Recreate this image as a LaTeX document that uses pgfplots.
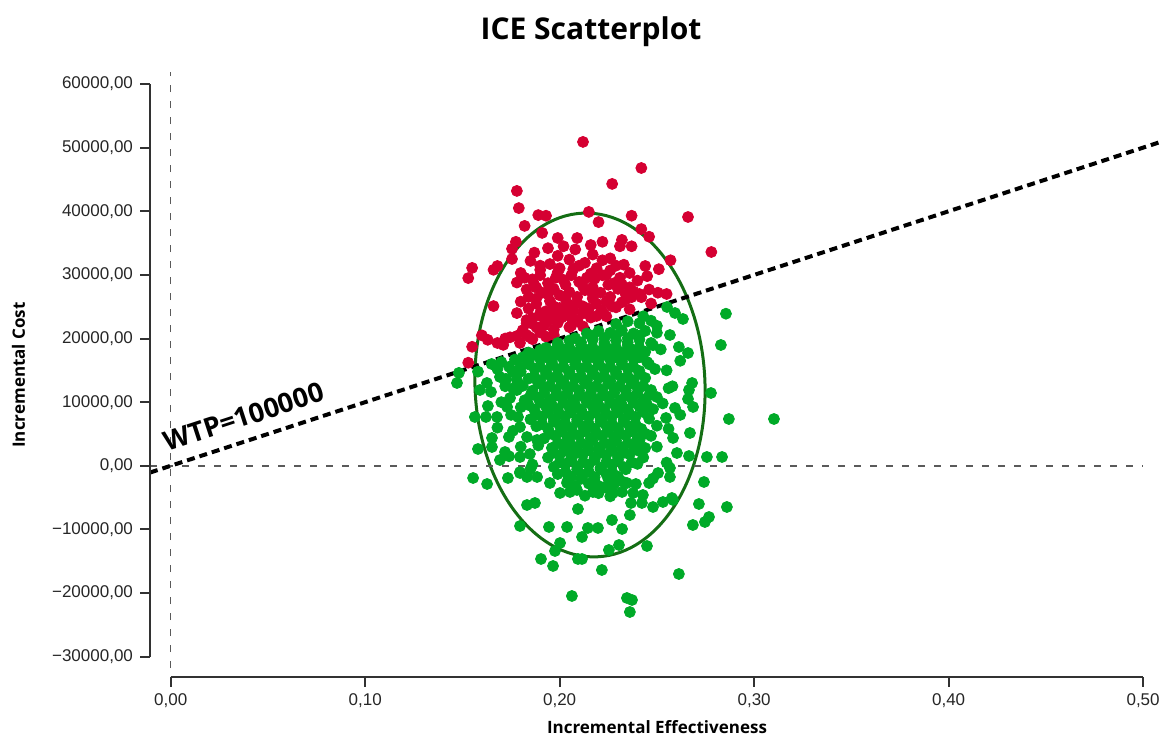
\documentclass[border=0pt]{standalone}
\usepackage{pgfplots}
\pgfplotsset{compat=1.18}
\usepackage{fontspec}
\setmainfont{Liberation Sans}
\newfontfamily\labelfont{Open Sans}
\definecolor{icered}{RGB}{213,0,50}
\definecolor{icegreen}{RGB}{0,170,40}
\definecolor{ellgreen}{RGB}{20,110,20}
\definecolor{axisgray}{RGB}{50,50,50}
\definecolor{refgray}{RGB}{90,90,90}

\begin{document}
\begin{tikzpicture}
\begin{axis}[
  at={(0,0)}, anchor=south west,
  scale only axis, width=505pt, height=302.5pt,
  xmin=-0.01064, xmax=0.5087, ymin=-33192, ymax=61889,
  axis x line*=bottom, axis y line*=left,
  axis line style={draw=none},
  tick align=outside, major tick length=5pt,
  tick style={axisgray, line width=1pt},
  scaled x ticks=false, scaled y ticks=false,
  xtick={0,0.1,0.2,0.3,0.4,0.5},
  xticklabels={{0,00},{0,10},{0,20},{0,30},{0,40},{0,50}},
  ytick={-30000,-20000,-10000,0,10000,20000,30000,40000,50000,60000},
  yticklabels={{−30000,00},{−20000,00},{−10000,00},{0,00},{10000,00},{20000,00},{30000,00},{40000,00},{50000,00},{60000,00}},
  ticklabel style={font=\fontsize{8.5}{10}\selectfont, text=black!85},
  clip=false,
]
% simulations above the WTP line
\addplot[only marks, mark=*, mark size=2.75pt, icered] coordinates {
(0.212,50900) (0.242,46800) (0.227,44300) (0.178,43200) (0.179,40500)
(0.189,39400) (0.193,39300) (0.215,39900) (0.220,38300) (0.237,39300)
(0.266,39100) (0.278,33600) (0.182,37700) (0.191,36600) (0.199,35800)
(0.209,35800) (0.242,37200) (0.246,36000) (0.194,34200) (0.202,34500)
(0.216,34700) (0.222,35200) (0.1775,35200) (0.1755,34100) (0.155,31100)
(0.153,29500) (0.166,30800) (0.168,31400) (0.1755,32500) (0.166,25100)
(0.251,30900) (0.244,31400) (0.245,29800) (0.257,32300) (0.255,27000)
(0.2505,27200) (0.242,26500) (0.237,26500) (0.232,25700) (0.178,24000)
(0.155,18700) (0.153,16200) (0.163,19800) (0.168,19300) (0.1745,20200)
(0.1796,19300) (0.1847,20200) (0.183,22900) (0.188,21800) (0.190,24000)
(0.197,23400) (0.202,24500) (0.207,22900) (0.214,24500) (0.221,24000)
(0.171,19000) (0.183,22400) (0.237,34500) (0.232,35500)
(0.185,32200) (0.195,31700) (0.205,32400) (0.213,31900) (0.222,32300) (0.233,31600)
(0.180,30300) (0.190,30800) (0.199,30400) (0.207,30900) (0.216,30200) (0.226,30700) (0.236,30300)
(0.178,28800) (0.186,29300) (0.194,28700) (0.202,29200) (0.210,28900) (0.218,29400) (0.228,28700) (0.240,29100)
(0.183,27700) (0.191,27200) (0.197,27800) (0.205,27300) (0.213,27600) (0.221,27200) (0.230,27800) (0.238,27400) (0.246,27700)
(0.180,25800) (0.188,26300) (0.195,25900) (0.203,26200) (0.209,25700) (0.217,26300) (0.224,25800) (0.234,26200)
(0.184,24700) (0.193,24300) (0.200,24800) (0.207,24400) (0.215,24700) (0.222,24300) (0.229,24900) (0.236,24600)
(0.186,23200) (0.194,22800) (0.201,23300) (0.209,22900) (0.216,23300) (0.224,23500)
(0.181,21300) (0.189,21700) (0.197,21400) (0.205,21800) (0.212,21900)
(0.172,20000) (0.178,20400) (0.186,19900) (0.193,20300)
(0.187,33500) (0.199,33000) (0.208,34000) (0.217,33200) (0.226,32600) (0.231,34500)
(0.224,30000) (0.212,28200) (0.200,26800) (0.188,28000) (0.232,28500) (0.241,27000)
(0.247,25500) (0.160,20500)
(0.190,31450) (0.200,31050) (0.210,31450) (0.219,31050) (0.229,31450)
(0.182,29550) (0.190,29950) (0.198,29550) (0.206,29950) (0.214,29550) (0.222,29950) (0.231,29550)
(0.187,28450) (0.195,28050) (0.203,28450) (0.217,28050) (0.225,28450) (0.236,28050)
(0.184,26550) (0.194,26950) (0.209,26550) (0.217,26950) (0.226,26550) (0.234,26950)
(0.188,25450) (0.197,25050) (0.204,25450) (0.212,25050) (0.219,25450) (0.227,25050)
(0.190,23550) (0.197,23950) (0.205,23550) (0.212,23950) (0.219,23550)
(0.185,22450) (0.192,22050) (0.199,22450) (0.206,22050)
(0.183,20550) (0.190,20950) (0.197,20550)
};
% simulations below the WTP line
\addplot[only marks, mark=*, mark size=2.75pt, icegreen] coordinates {
(0.229,22300) (0.235,22700) (0.241,22400) (0.247,22800)
(0.214,20800) (0.220,21200) (0.226,20900) (0.232,21300) (0.238,20800) (0.244,21200) (0.250,20900)
(0.199,19300) (0.205,19700) (0.211,19400) (0.217,19800) (0.223,19300) (0.229,19700) (0.235,19400) (0.241,19800) (0.247,19300)
(0.184,17800) (0.190,18200) (0.196,17900) (0.202,18300) (0.208,17800) (0.214,18200) (0.220,17900) (0.226,18300) (0.232,17800) (0.238,18200) (0.244,17900) (0.252,18300)
(0.170,16300) (0.177,16700) (0.184,16400) (0.190,16800) (0.196,16300) (0.202,16700) (0.208,16400) (0.214,16800) (0.220,16300) (0.226,16700) (0.232,16400) (0.238,16800) (0.245,16300)
(0.158,14800) (0.168,15200) (0.180,14800) (0.187,15300) (0.193,14900) (0.199,15200) (0.205,14800) (0.211,15300) (0.217,14900) (0.223,15200) (0.229,14800) (0.235,15300) (0.241,14900) (0.249,15200)
(0.172,13300) (0.184,13700) (0.190,13400) (0.196,13800) (0.202,13300) (0.208,13700) (0.214,13400) (0.220,13800) (0.226,13300) (0.232,13700) (0.238,13400) (0.244,13800)
(0.176,12200) (0.186,11800) (0.192,12300) (0.198,11900) (0.204,12200) (0.210,11800) (0.216,12300) (0.222,11900) (0.228,12200) (0.234,11800) (0.240,12300) (0.247,11900) (0.256,12200)
(0.182,10300) (0.189,10700) (0.195,10400) (0.201,10800) (0.207,10300) (0.213,10700) (0.219,10400) (0.225,10800) (0.231,10300) (0.237,10700) (0.243,10400) (0.250,10800)
(0.180,9200) (0.187,8800) (0.193,9300) (0.199,8900) (0.205,9200) (0.211,8800) (0.217,9300) (0.223,8900) (0.229,9200) (0.235,8800) (0.241,9300) (0.248,8900)
(0.185,7300) (0.191,7700) (0.197,7400) (0.203,7800) (0.209,7300) (0.215,7700) (0.221,7400) (0.227,7800) (0.233,7300) (0.239,7700) (0.246,7400)
(0.188,6200) (0.194,5800) (0.200,6300) (0.206,5900) (0.212,6200) (0.218,5800) (0.224,6300) (0.230,5900) (0.236,6200) (0.242,5800) (0.250,6300)
(0.192,4300) (0.198,4700) (0.204,4400) (0.210,4800) (0.216,4300) (0.222,4700) (0.228,4400) (0.234,4800) (0.240,4300) (0.247,4700)
(0.189,3200) (0.196,2800) (0.202,3300) (0.208,2900) (0.214,3200) (0.220,2800) (0.226,3300) (0.232,2900) (0.238,3200) (0.244,2800)
(0.194,1300) (0.200,1700) (0.206,1400) (0.212,1800) (0.218,1300) (0.224,1700) (0.230,1400) (0.236,1800) (0.243,1300)
(0.186,200) (0.197,-200) (0.203,300) (0.209,-100) (0.215,200) (0.221,-300) (0.227,200) (0.233,-200) (0.240,300)
(0.199,-1300) (0.206,-1700) (0.212,-1400) (0.218,-1800) (0.224,-1300) (0.230,-1700)
(0.208,-3200) (0.215,-2800) (0.221,-3300) (0.228,-2900)
(0.213,-4700) (0.220,-4300) (0.226,-4800)
(0.208,20050) (0.217,20450) (0.223,20050) (0.229,20450) (0.235,20050) (0.241,20450)
(0.193,18550) (0.199,18950) (0.205,18550) (0.211,18950) (0.217,18550) (0.223,18950) (0.229,18550) (0.235,18950) (0.241,18550) (0.248,18950)
(0.181,17050) (0.187,17450) (0.193,17050) (0.199,17450) (0.205,17050) (0.211,17450) (0.217,17050) (0.223,17450) (0.229,17050) (0.235,17450) (0.241,17050)
(0.174,15550) (0.184,15950) (0.190,15550) (0.196,15950) (0.202,15550) (0.208,15950) (0.214,15550) (0.220,15950) (0.226,15550) (0.232,15950) (0.238,15550) (0.246,15950)
(0.187,14050) (0.193,14450) (0.199,14050) (0.205,14450) (0.211,14050) (0.217,14450) (0.223,14050) (0.229,14450) (0.235,14050) (0.241,14450)
(0.181,12550) (0.189,12950) (0.195,12550) (0.201,12950) (0.207,12550) (0.213,12950) (0.219,12550) (0.225,12950) (0.231,12550) (0.237,12950) (0.243,12550)
(0.185,11050) (0.192,11450) (0.198,11050) (0.204,11450) (0.210,11050) (0.216,11450) (0.222,11050) (0.228,11450) (0.234,11050) (0.240,11450) (0.246,11050)
(0.184,9550) (0.190,9950) (0.196,9550) (0.202,9950) (0.208,9550) (0.214,9950) (0.220,9550) (0.226,9950) (0.232,9550) (0.238,9950) (0.245,9550)
(0.188,8050) (0.194,8450) (0.200,8050) (0.206,8450) (0.212,8050) (0.218,8450) (0.224,8050) (0.230,8450) (0.236,8050) (0.243,8450)
(0.191,6550) (0.197,6950) (0.203,6550) (0.209,6950) (0.215,6550) (0.221,6950) (0.227,6550) (0.233,6950) (0.239,6550)
(0.195,5050) (0.201,5450) (0.207,5050) (0.213,5450) (0.219,5050) (0.225,5450) (0.231,5050) (0.237,5450) (0.244,5050)
(0.199,3550) (0.205,3950) (0.211,3550) (0.217,3950) (0.223,3550) (0.229,3950) (0.235,3550) (0.241,3950)
(0.197,2050) (0.203,2450) (0.209,2050) (0.215,2450) (0.221,2050) (0.227,2450) (0.233,2050) (0.240,2450)
(0.200,550) (0.206,950) (0.212,550) (0.218,950) (0.224,550) (0.230,950) (0.237,550)
(0.203,-950) (0.209,-550) (0.215,-950) (0.221,-550) (0.227,-950) (0.234,-550)
(0.204,-2450) (0.211,-2050) (0.218,-2450) (0.225,-2050) (0.232,-2450)
(0.170,10000) (0.175,8000) (0.168,6000) (0.176,5500) (0.172,12500) (0.180,3000)
(0.174,1500) (0.185,-500) (0.255,15000) (0.258,12500) (0.262,16500) (0.253,9800)
(0.256,5800) (0.262,8000) (0.250,3000) (0.255,500) (0.248,-2000) (0.165,16000)
(0.176,14700) (0.1796,15500) (0.1724,13660) (0.1693,13960) (0.178,13500) (0.178,11900)
(0.173,9240) (0.1745,10660) (0.1786,7670) (0.1796,6100) (0.1832,4530) (0.1884,4060)
(0.243,23500) (0.250,22000)
(0.2855,23900) (0.2829,18985) (0.2778,11441) (0.2870,7355) (0.3102,7355)
(0.2757,1383) (0.2835,1383) (0.2742,-2546) (0.2860,-6475) (0.2716,-6004)
(0.2768,-8047) (0.2747,-8833) (0.2685,-9304) (0.2593,24014) (0.2634,23071)
(0.2613,18670) (0.2660,17727) (0.2567,20557) (0.2681,13014) (0.2665,11914)
(0.2660,10500) (0.2686,9243) (0.2593,9086) (0.2547,7514) (0.2670,5157)
(0.2583,4371) (0.2603,2011) (0.2665,1540) (0.2577,-5061) (0.2531,-5690)
(0.2567,-1760) (0.2552,24957) (0.2613,-17004) (0.2063,-20461) (0.2346,-20776)
(0.2372,-21090) (0.2361,-22976) (0.2449,-12604) (0.2217,-16376) (0.2253,-13233)
(0.2305,-12447) (0.2269,-8518) (0.2321,-9933) (0.2361,-7733) (0.2367,-5847)
(0.2423,-5847) (0.2428,-4590) (0.2480,-6475) (0.2583,-5376) (0.2567,-346)
(0.2506,-1132) (0.2460,-2703) (0.2378,-4275) (0.2171,-4118) (0.2274,-4275)
(0.2321,-4118) (0.2002,-4275) (0.2053,-4118) (0.2089,-3804) (0.1950,-2703)
(0.2038,-2703) (0.2182,-2703) (0.2243,-3489) (0.2346,-2703) (0.2392,-2860)
(0.1555,-1917) (0.1627,-2860) (0.1734,-1917) (0.1796,-1132) (0.1832,-6161)
(0.1873,-5847) (0.1796,-9461) (0.1945,-9618) (0.2038,-9618) (0.2094,-6790)
(0.2145,-9775) (0.2197,-9775) (0.2115,-11190) (0.2002,-12133) (0.1976,-13390)
(0.1904,-14647) (0.1966,-15747) (0.2094,-14647) (0.2115,-14647)
(0.1472,13014) (0.1482,14600) (0.1590,11914) (0.1626,13014) (0.1647,11600)
(0.1631,9400) (0.1564,7670) (0.1621,7670) (0.1678,7670) (0.1652,4371)
(0.1580,2640) (0.1652,2950) (0.1719,2170) (0.1739,4530) (0.1796,1380)
(0.1847,1850) (0.1693,910) (0.1796,-990) (0.1832,-1760) (0.1884,-1760)
};
\draw[ellgreen, line width=1.5pt] (axis cs:0.2156,12700) ellipse [x radius=57.5pt, y radius=86pt, rotate=2.3];
\draw[refgray, line width=0.8pt, dash pattern=on 3.5pt off 4.5pt] (axis cs:0,-31800) -- (axis cs:0,61889);
\draw[refgray, line width=0.8pt, dash pattern=on 3.5pt off 4.5pt] (axis cs:-0.01064,0) -- (axis cs:0.5,0);
\draw[black, line width=2pt, dash pattern=on 4pt off 2.5pt] (axis cs:-0.01064,-1064) -- (axis cs:0.5087,50870);
\node[rotate=18.1, anchor=base west, inner sep=0pt, font=\labelfont\bfseries\fontsize{13.5}{15}\selectfont] at (axis cs:-0.0019,2169) {WTP=100000};
\draw[axisgray, line width=1.2pt] (axis cs:0,-33192) -- (axis cs:0.5,-33192);
\draw[axisgray, line width=1.2pt] (axis cs:-0.01064,-30000) -- (axis cs:-0.01064,60000);
\end{axis}
\node[anchor=base, font=\labelfont\bfseries\fontsize{15}{18}\selectfont] at (220.5pt,318.5pt) {ICE Scatterplot};
\node[anchor=base, font=\labelfont\bfseries\fontsize{8.5}{10}\selectfont] at (253.5pt,-28.5pt) {Incremental Effectiveness};
\node[anchor=base, rotate=90, font=\labelfont\bfseries\fontsize{8.5}{10}\selectfont] at (-62.5pt,151pt) {Incremental Cost};
\pgfresetboundingbox
\path[use as bounding box] (-75pt,-30pt) rectangle (506.5pt,338.5pt);
\end{tikzpicture}
\end{document}
